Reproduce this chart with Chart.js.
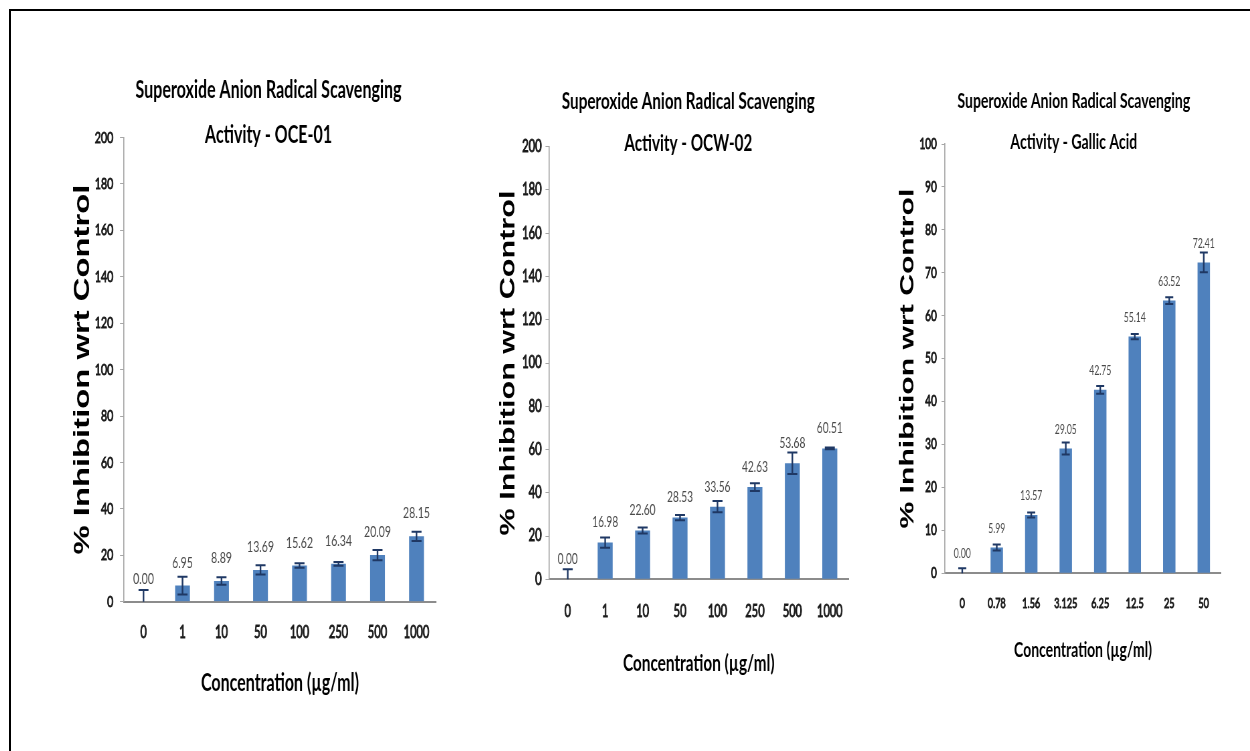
<!DOCTYPE html>
<html>
<head>
<meta charset="utf-8">
<script src="https://cdn.jsdelivr.net/npm/chart.js@4.4.1/dist/chart.umd.min.js"></script>
<style>
  html, body { margin: 0; padding: 0; background: #fff; }
  body { width: 1250px; height: 751px; position: relative; overflow: hidden; }
  #frame { position: absolute; left: 9px; top: 9px; width: 1260px; height: 760px;
           border-left: 2px solid #000; border-top: 2px solid #000; }
  canvas { position: absolute; transform-origin: 0 0; }
</style>
</head>
<body>
<div id="frame"></div>
<canvas id="c1"></canvas>
<canvas id="c2"></canvas>
<canvas id="c3"></canvas>
<script>
// ---- Data: superoxide anion radical scavenging (% inhibition, mean and error) ----
const conc1 = ['0', '1', '10', '50', '100', '250', '500', '1000'];
const inhib1 = [0.00, 6.95, 8.89, 13.69, 15.62, 16.34, 20.09, 28.15];
const err1 = [5.0, 3.8, 1.6, 2.0, 1.0, 0.8, 2.2, 2.0];
const yTicks1 = [0, 20, 40, 60, 80, 100, 120, 140, 160, 180, 200];
const title1 = ['Superoxide Anion Radical Scavenging', 'Activity - OCE-01'];

const conc2 = ['0', '1', '10', '50', '100', '250', '500', '1000'];
const inhib2 = [0.00, 16.98, 22.60, 28.53, 33.56, 42.63, 53.68, 60.51];
const err2 = [4.6, 2.4, 1.4, 1.2, 2.6, 1.8, 5.0, 0.4];
const yTicks2 = [0, 20, 40, 60, 80, 100, 120, 140, 160, 180, 200];
const title2 = ['Superoxide Anion Radical Scavenging', 'Activity - OCW-02'];

const conc3 = ['0', '0.78', '1.56', '3.125', '6.25', '12.5', '25', '50'];
const inhib3 = [0.00, 5.99, 13.57, 29.05, 42.75, 55.14, 63.52, 72.41];
const err3 = [1.2, 0.7, 0.6, 1.4, 0.9, 0.6, 0.8, 2.3];
const yTicks3 = [0, 10, 20, 30, 40, 50, 60, 70, 80, 90, 100];
const title3 = ['Superoxide Anion Radical Scavenging', 'Activity - Gallic Acid'];

const xAxisTitle = 'Concentration (µg/ml)';
const yAxisTitle = '% Inhibition wrt Control';

// ---- Styling ----
const TOP = 20, BOTTOM = 740;
const FACE = "Lato, 'Open Sans', 'DejaVu Sans Condensed', sans-serif";
const YFACE = "'Liberation Sans', Arial, sans-serif";
const HEAD_W = 'bold';     // heading weight
const TICK_W = 'normal';   // axis number weight
const BAR = '#4F81BD';
const ERR = '#1F3864';

const meas = document.createElement('canvas').getContext('2d');
function textWidth(text, weight, family) {
  meas.font = `${weight} 100px ${family}`;
  return meas.measureText(text).width / 100;
}

// Panels are drawn wide and condensed horizontally; the condensing factor is
// chosen so that the heading gets tall, narrow lettering.
const K = (function () {
  meas.font = `${HEAD_W} 100px ${FACE}`;
  const cap = meas.measureText('H').actualBoundingBoxAscent / 100;
  const size = 17.5 / cap;
  return 266 / (textWidth(title1[0], HEAD_W, FACE) * size);
})();

function fitSize(text, weight, family, pageWidth, squeeze) {
  return pageWidth / squeeze / textWidth(text, weight, family);
}

// Error bars drawn from the value scale
const errorBars = {
  id: 'errorBars',
  afterDatasetsDraw(chart, args, opts) {
    const { ctx, chartArea } = chart;
    const y = chart.scales.y;
    const meta = chart.getDatasetMeta(0);
    const vals = chart.data.datasets[0].data;
    ctx.save();
    ctx.beginPath();
    ctx.rect(chartArea.left, chartArea.top - 40, chartArea.right - chartArea.left, chartArea.bottom - chartArea.top + 40);
    ctx.clip();
    ctx.strokeStyle = ERR;
    meta.data.forEach((bar, i) => {
      const hi = y.getPixelForValue(vals[i] + opts.errors[i]);
      const lo = y.getPixelForValue(vals[i] - opts.errors[i]);
      ctx.lineWidth = 1.6 / K;
      ctx.beginPath();
      ctx.moveTo(bar.x, hi); ctx.lineTo(bar.x, lo);
      ctx.stroke();
      ctx.lineWidth = 2;
      ctx.beginPath();
      ctx.moveTo(bar.x - opts.cap, hi); ctx.lineTo(bar.x + opts.cap, hi);
      ctx.moveTo(bar.x - opts.cap, lo); ctx.lineTo(bar.x + opts.cap, lo);
      ctx.stroke();
    });
    ctx.restore();
  }
};

// Value labels above each bar
const valueLabels = {
  id: 'valueLabels',
  afterDatasetsDraw(chart, args, opts) {
    const { ctx } = chart;
    const meta = chart.getDatasetMeta(0);
    const vals = chart.data.datasets[0].data;
    ctx.save();
    ctx.font = `normal ${opts.size}px ${FACE}`;
    ctx.fillStyle = '#4a4a4a';
    ctx.textAlign = 'center';
    ctx.textBaseline = 'middle';
    meta.data.forEach((bar, i) => {
      ctx.fillText(vals[i].toFixed(2), bar.x, bar.y - opts.offset);
    });
    ctx.restore();
  }
};

function panel(id, labels, values, errors, yTicks, title, g) {
  const Lp = g.yTitleX - 24;                     // canvas left edge (page px)
  const padL = (g.yTitleX - 14 - Lp) / K;        // left edge of the value axis box
  const chartRightL = (g.plotRight - Lp) / K;
  const titleRightL = 2 * (g.titleX - Lp) / K - padL;
  const sideW = Math.max(0, titleRightL - chartRightL);
  const W = Math.ceil(titleRightL + 6);
  const padR = W - titleRightL;
  const yW = (g.plotLeft - Lp) / K - padL;
  const H = BOTTOM - TOP;

  const titleSize = fitSize(title[0], HEAD_W, FACE, g.titleW, K);
  const titlePadTop = g.title1Y - TOP - g.titleGap / 2;
  const titlePadBottom = g.plotTop - TOP - 2 * g.titleGap - titlePadTop;

  const yTitleSize = fitSize(yAxisTitle, 'bold', YFACE, g.yTitleLen, 1);
  const yTitleLH = yTitleSize * 1.2;
  const yTitlePad = (g.yTitleX - Lp) / K - padL - yTitleLH / 2;

  const yTickSize = fitSize(g.yTickRef[0], TICK_W, FACE, g.yTickRef[1], K);
  const xTickSize = fitSize(g.xTickRef[0], TICK_W, FACE, g.xTickRef[1], K);
  const labelSize = fitSize(g.labelRef[0], 'normal', FACE, g.labelRef[1], K);
  const xTitleSize = fitSize(xAxisTitle, HEAD_W, FACE, g.xTitleW, K);

  const tickLen = g.tickLen / K;
  const yTickPad = (g.plotLeft - g.yLabelRight) / K - tickLen;
  const xTickPad = g.xLabelY - g.plotBottom - xTickSize * 1.2 / 2;
  const xTitlePad = BOTTOM - g.xTitleY - xTitleSize * 1.2 / 2;
  const xH = BOTTOM - g.plotBottom;

  const cv = document.getElementById(id);
  cv.width = W; cv.height = H;
  cv.style.width = W + 'px'; cv.style.height = H + 'px';
  cv.style.left = Lp + 'px'; cv.style.top = TOP + 'px';
  cv.style.transform = `scaleX(${K})`;

  return new Chart(cv.getContext('2d'), {
    type: 'bar',
    data: {
      labels: labels,
      datasets: [{
        data: values,
        backgroundColor: BAR,
        borderWidth: 0,
        barPercentage: g.barPct,
        categoryPercentage: 1,
        yAxisID: 'y'
      }]
    },
    options: {
      responsive: false,
      animation: false,
      devicePixelRatio: 1,
      layout: { padding: { left: padL, right: padR, top: 0, bottom: 0 } },
      plugins: {
        legend: { display: false },
        tooltip: { enabled: false },
        title: {
          display: true,
          text: title,
          color: '#000',
          font: { family: FACE, size: titleSize, weight: HEAD_W, lineHeight: g.titleGap + 'px' },
          padding: { top: titlePadTop, bottom: titlePadBottom }
        },
        errorBars: { errors: errors, cap: g.cap / K },
        valueLabels: { size: labelSize, offset: g.labelOffset }
      },
      scales: {
        x: {
          grid: { display: false, drawTicks: false },
          border: { display: true, color: '#8C8C8C', width: 2 },
          ticks: {
            color: '#1a1a1a', padding: xTickPad, autoSkip: false, maxRotation: 0, minRotation: 0,
            textStrokeColor: '#1a1a1a', textStrokeWidth: 0.9,
            font: { family: FACE, size: xTickSize, weight: TICK_W, lineHeight: 1.2 }
          },
          title: {
            display: true, text: xAxisTitle, color: '#000',
            font: { family: FACE, size: xTitleSize, weight: HEAD_W, lineHeight: 1.2 },
            padding: { top: 0, bottom: xTitlePad }
          },
          afterFit: s => { s.height = xH; }
        },
        y: {
          position: 'left',
          min: yTicks[0],
          max: yTicks[yTicks.length - 1],
          afterBuildTicks: s => { s.ticks = yTicks.map(v => ({ value: v })); },
          grid: { drawOnChartArea: false, drawTicks: true, tickLength: tickLen, color: '#A6A6A6', lineWidth: 1 },
          border: { display: true, color: '#A6A6A6', width: 1.1 / K },
          ticks: {
            color: '#1a1a1a', padding: yTickPad,
            textStrokeColor: '#1a1a1a', textStrokeWidth: 0.9,
            font: { family: FACE, size: yTickSize, weight: TICK_W, lineHeight: 1.2 }
          },
          title: {
            display: true, text: yAxisTitle, color: '#000',
            font: { family: YFACE, size: yTitleSize, weight: 'bold', lineHeight: 1.2 },
            padding: { top: yTitlePad, bottom: 0 }
          },
          afterFit: s => { s.width = yW; }
        },
        // empty right-hand margin so the heading sits where it should
        side: {
          type: 'linear', position: 'right', display: true, min: 0, max: 1,
          grid: { display: false, drawTicks: false },
          border: { display: false },
          ticks: { display: false },
          afterFit: s => { s.width = sideW; }
        }
      }
    },
    plugins: [errorBars, valueLabels]
  });
}

panel('c1', conc1, inhib1, err1, yTicks1, title1, {
  plotLeft: 124, plotRight: 436, plotTop: 137.5, plotBottom: 601.7,
  titleX: 268.5, title1Y: 90, titleGap: 45, titleW: 266,
  yTitleX: 83, yTitleLen: 370,
  yLabelRight: 113.3, tickLen: 4,
  xLabelY: 633, xTitleY: 683, xTitleW: 158,
  yTickRef: ['200', 18.5], xTickRef: ['1000', 25.7], labelRef: ['28.15', 27],
  labelOffset: 23, barPct: 0.38, cap: 5
});

panel('c2', conc2, inhib2, err2, yTicks2, title2, {
  plotLeft: 549, plotRight: 848.5, plotTop: 146.7, plotBottom: 579.3,
  titleX: 688.3, title1Y: 101.7, titleGap: 42.3, titleW: 253,
  yTitleX: 509, yTitleLen: 345,
  yLabelRight: 541.7, tickLen: 3.5,
  xLabelY: 611.7, xTitleY: 663.3, xTitleW: 151.7,
  yTickRef: ['200', 19.5], xTickRef: ['250', 19.3], labelRef: ['42.63', 26],
  labelOffset: 20, barPct: 0.40, cap: 5
});

panel('c3', conc3, inhib3, err3, yTicks3, title3, {
  plotLeft: 945, plotRight: 1221, plotTop: 144, plotBottom: 573.3,
  titleX: 1073.8, title1Y: 101.7, titleGap: 41, titleW: 232.7,
  yTitleX: 908, yTitleLen: 340,
  yLabelRight: 936.7, tickLen: 3.5,
  xLabelY: 603.3, xTitleY: 650, xTitleW: 138,
  yTickRef: ['100', 17.3], xTickRef: ['3.125', 23.3], labelRef: ['42.75', 22],
  labelOffset: 19, barPct: 0.36, cap: 4
});
</script>
</body>
</html>
